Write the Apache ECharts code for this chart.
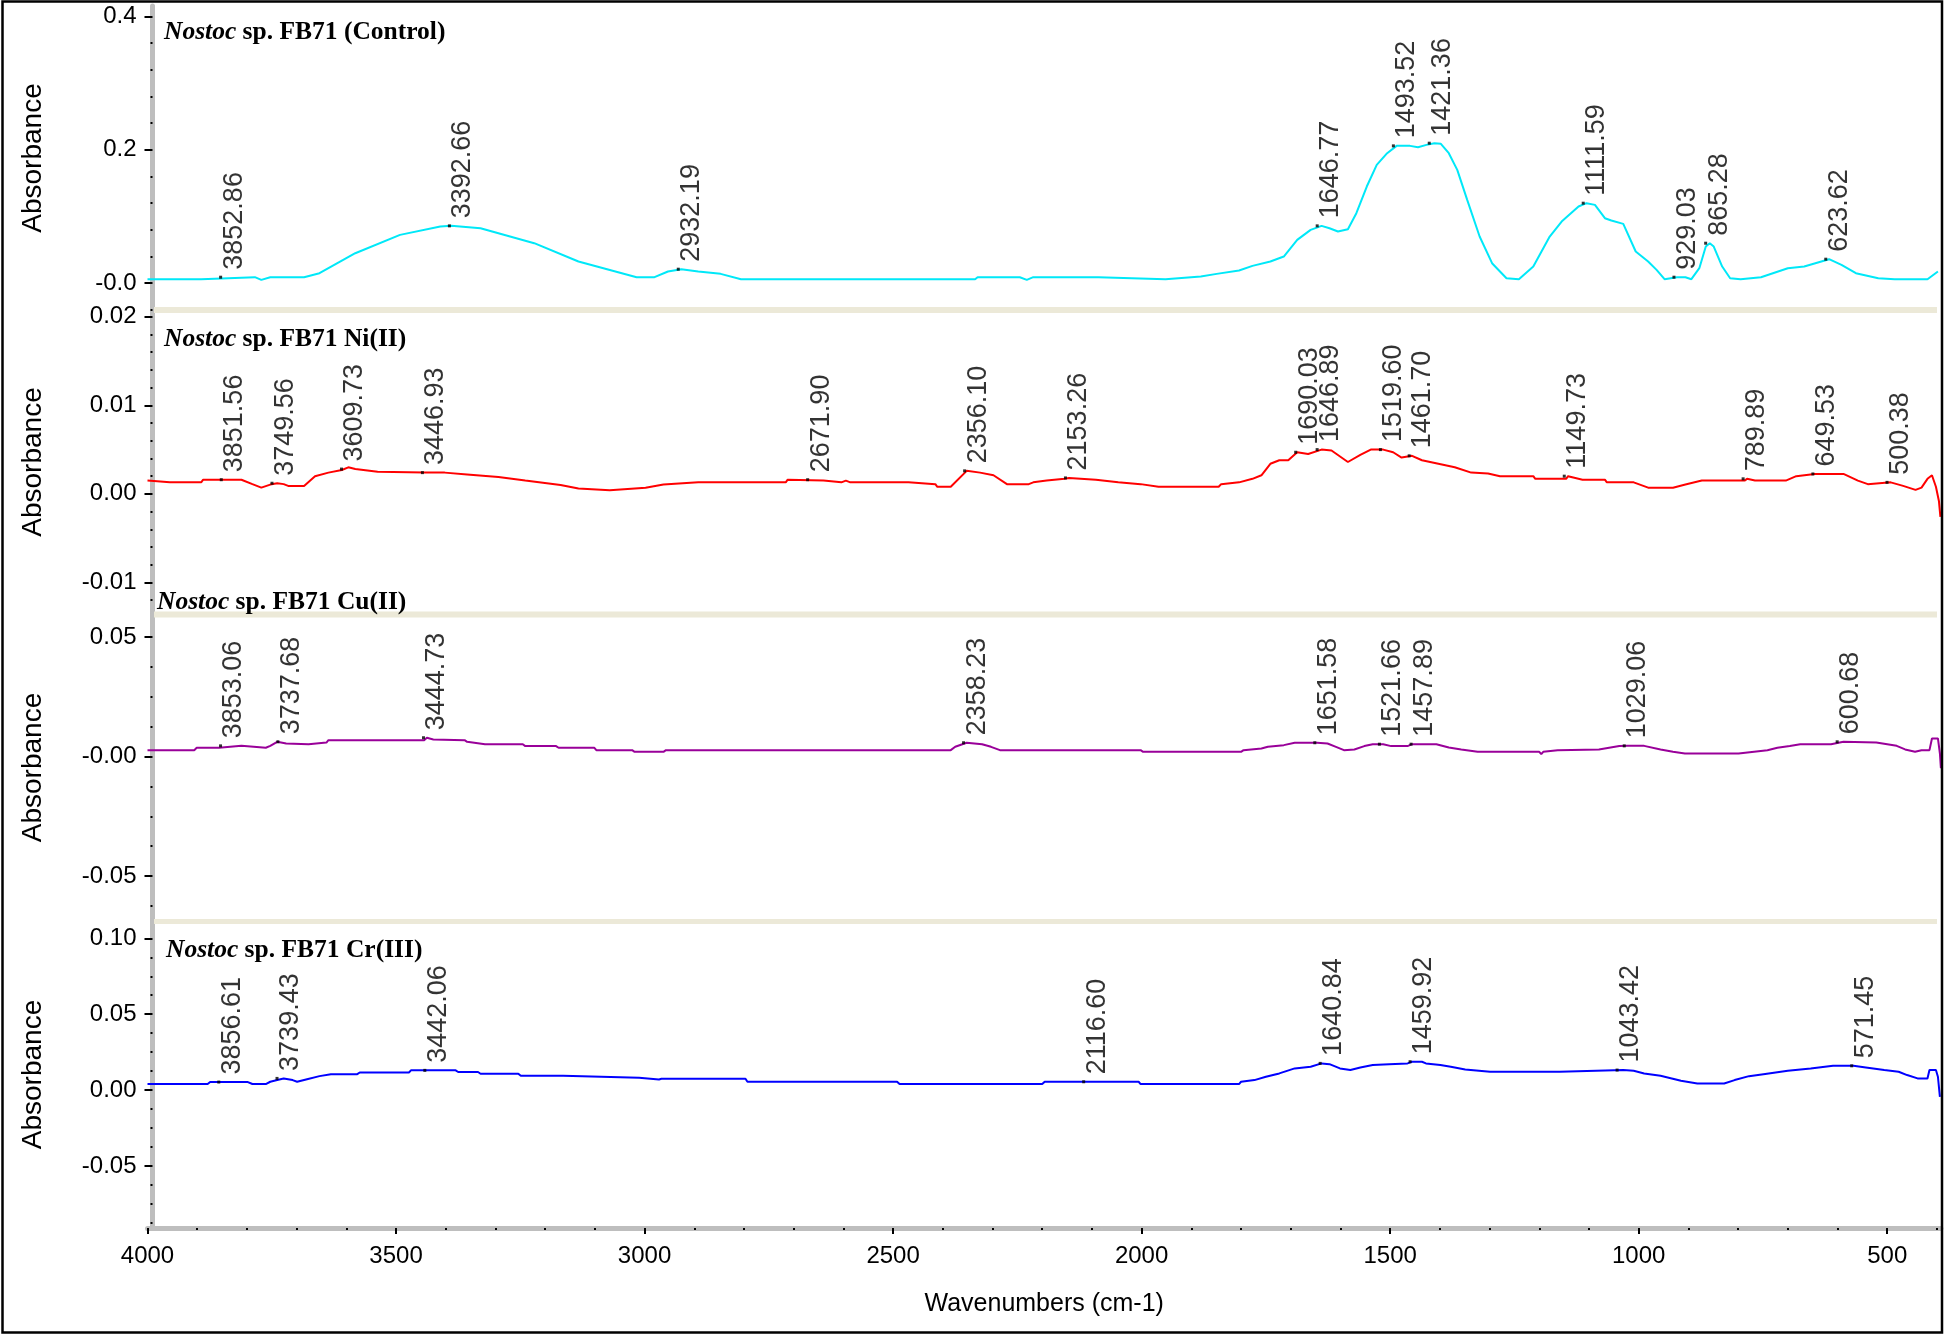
<!DOCTYPE html>
<html><head><meta charset="utf-8">
<script src="https://cdn.jsdelivr.net/npm/echarts@6.0.0/dist/echarts.min.js"></script>
<style>html,body{margin:0;padding:0;background:#fff}#c{width:1944px;height:1335px}</style>
</head><body><div id="c"></div><script>
// ---------- DATA ----------
const xTickLabels = ['4000','3500','3000','2500','2000','1500','1000','500'];
const panelNames = ['(Control)','Ni(II)','Cu(II)','Cr(III)'];
const yTickLabels = [
  ['0.4','0.2','-0.0'],
  ['0.02','0.01','0.00','-0.01'],
  ['0.05','-0.00','-0.05'],
  ['0.10','0.05','0.00','-0.05']
];

const controlWn = [4000,3892,3890,3784,3771,3753,3685,3654,3582,3492,3411,3389,3330,3222,3133,3016,2980,2953,2926,2892,2847,2806,2335,2330,2245,2231,2218,2087,2083,1952,1948,1881,1849,1804,1777,1741,1714,1687,1660,1638,1622,1605,1585,1568,1547,1527,1506,1487,1460,1444,1427,1411,1398,1382,1365,1345,1320,1295,1266,1241,1212,1179,1155,1121,1105,1088,1068,1055,1031,1006,981,964,948,923,906,894,878,865,857,849,832,816,795,754,700,667,617,592,563,518,485,419,398];
const controlAbs = [0.006,0.006,0.009,0.009,0.005,0.009,0.009,0.015,0.045,0.0725,0.085,0.086,0.0825,0.060,0.0325,0.009,0.009,0.0175,0.021,0.0175,0.014,0.006,0.006,0.009,0.009,0.005,0.009,0.009,0.006,0.006,0.009,0.010,0.014,0.019,0.026,0.0325,0.040,0.065,0.080,0.086,0.0825,0.0775,0.081,0.105,0.145,0.1775,0.195,0.206,0.206,0.204,0.2075,0.210,0.209,0.195,0.170,0.125,0.070,0.030,0.0075,0.006,0.025,0.070,0.0925,0.115,0.120,0.1175,0.0975,0.094,0.089,0.0475,0.0325,0.020,0.006,0.009,0.009,0.006,0.0225,0.055,0.060,0.055,0.025,0.0075,0.006,0.009,0.0225,0.025,0.036,0.0275,0.015,0.0075,0.006,0.006,0.0175];

const niWn = [4000,3955,3892,3888,3811,3789,3771,3753,3739,3726,3717,3685,3663,3636,3609,3596,3582,3537,3443,3402,3357,3294,3240,3169,3133,3070,2998,2962,2892,2716,2712,2640,2604,2595,2586,2469,2465,2415,2411,2384,2352,2325,2298,2271,2227,2218,2191,2155,2146,2092,2047,2002,1966,1845,1840,1804,1777,1759,1741,1723,1705,1687,1665,1638,1618,1585,1560,1539,1514,1494,1477,1456,1436,1403,1370,1337,1303,1279,1212,1208,1146,1142,1113,1068,1064,1010,981,931,906,873,787,782,766,704,683,646,588,559,539,493,468,443,431,419,410,402,396,393];
const niAbs = [0.0015,0.0013,0.0013,0.0016,0.0016,0.0011,0.0007,0.00105,0.0012,0.0011,0.0009,0.0009,0.0020,0.0024,0.0027,0.0030,0.0028,0.0025,0.0024,0.0024,0.0022,0.0019,0.0015,0.0010,0.0006,0.0004,0.0007,0.00105,0.0013,0.0013,0.0016,0.0015,0.0013,0.0015,0.0013,0.0013,0.0011,0.0011,0.0008,0.0008,0.0026,0.0024,0.0021,0.0011,0.0011,0.0013,0.0015,0.0017,0.0018,0.0016,0.0013,0.0011,0.0008,0.0008,0.0011,0.0013,0.0017,0.0021,0.0034,0.0038,0.0038,0.0047,0.0045,0.0050,0.0049,0.0036,0.0044,0.0050,0.0050,0.0047,0.0041,0.0043,0.0038,0.0034,0.0030,0.0024,0.0023,0.0020,0.0020,0.0017,0.0017,0.0020,0.0016,0.0016,0.0013,0.0013,0.0007,0.0007,0.00105,0.0015,0.0015,0.0017,0.0015,0.0015,0.0020,0.00225,0.00225,0.0015,0.0011,0.0013,0.0009,0.00045,0.0007,0.0017,0.0021,0.0008,-0.0008,-0.0026];

const cuWn = [4000,3906,3901,3856,3852,3811,3807,3762,3753,3739,3721,3717,3676,3672,3640,3636,3443,3438,3425,3362,3357,3321,3245,3240,3178,3173,3101,3097,3025,3020,2962,2957,2384,2375,2352,2321,2303,2285,2002,1997,1800,1795,1759,1746,1714,1692,1647,1626,1609,1593,1572,1552,1535,1514,1498,1465,1456,1407,1403,1382,1357,1324,1200,1196,1192,1163,1080,1076,1039,1022,989,985,956,931,907,799,795,741,721,696,675,613,609,588,522,518,481,464,444,431,415,410,398,394,392];
const cuAbs = [0.0027,0.0027,0.0037,0.0037,0.0045,0.0045,0.0037,0.0037,0.0045,0.0062,0.0055,0.0052,0.0052,0.0059,0.0059,0.0069,0.0069,0.0079,0.0072,0.0069,0.0062,0.0052,0.0052,0.0044,0.0044,0.0037,0.0037,0.0027,0.0027,0.0020,0.0020,0.0027,0.0027,0.0041,0.0058,0.0052,0.0041,0.0027,0.0027,0.0020,0.0020,0.0027,0.0034,0.0041,0.0048,0.0058,0.0058,0.0055,0.0041,0.0027,0.0030,0.0044,0.0052,0.0052,0.0044,0.0044,0.0052,0.0052,0.0044,0.0038,0.0030,0.0020,0.0020,0.0010,0.0020,0.0027,0.0030,0.0038,0.0044,0.0045,0.0045,0.0037,0.0030,0.0020,0.0013,0.0013,0.0020,0.0027,0.0037,0.0044,0.0052,0.0052,0.0059,0.0062,0.0059,0.0052,0.0045,0.0030,0.0020,0.0027,0.0027,0.0076,0.0076,0.0013,-0.0049];

const crWn = [4000,3879,3874,3798,3789,3762,3753,3739,3726,3708,3699,3681,3654,3631,3578,3573,3474,3470,3380,3375,3335,3330,3254,3249,3164,3160,3011,3007,2971,2966,2797,2793,2492,2487,2200,2195,2006,2002,1804,1800,1773,1750,1723,1692,1660,1638,1622,1601,1580,1560,1535,1502,1465,1456,1436,1428,1399,1378,1349,1299,1159,1155,1031,1010,989,956,915,882,828,807,778,749,700,654,609,568,543,506,477,460,439,419,415,402,398,394];
const crAbs = [0.0040,0.0040,0.0053,0.0053,0.0040,0.0040,0.0055,0.0066,0.0077,0.0066,0.0055,0.0070,0.0092,0.0105,0.0105,0.0116,0.0116,0.0130,0.0130,0.0119,0.0119,0.0108,0.0108,0.0094,0.0094,0.0081,0.0081,0.0070,0.0070,0.0075,0.0075,0.0055,0.0055,0.0040,0.0040,0.0055,0.0055,0.0040,0.0040,0.0055,0.0066,0.0088,0.0110,0.0143,0.0154,0.0176,0.0171,0.0143,0.0132,0.0149,0.0165,0.0171,0.0176,0.0187,0.0187,0.0176,0.0165,0.0154,0.0136,0.0121,0.0121,0.0132,0.0132,0.0127,0.0110,0.0094,0.0061,0.0044,0.0044,0.0066,0.0092,0.0105,0.0127,0.0143,0.0160,0.0160,0.0149,0.0132,0.0121,0.0099,0.0077,0.0077,0.0132,0.0132,0.0088,-0.0044];

const controlPeaks = ['3852.86','3392.66','2932.19','1646.77','1493.52','1421.36','1111.59','929.03','865.28','623.62'];
const controlPeakAbs = [0.009,0.086,0.021,0.086,0.206,0.210,0.120,0.009,0.060,0.036];
const niPeaks = ['3851.56','3749.56','3609.73','3446.93','2671.90','2356.10','2153.26','1690.03','1646.89','1519.60','1461.70','1149.73','789.89','649.53','500.38'];
const niPeakAbs = [0.0016,0.0012,0.0028,0.0024,0.0016,0.0026,0.0018,0.0047,0.0050,0.0050,0.0043,0.0020,0.0017,0.00225,0.0013];
const cuPeaks = ['3853.06','3737.68','3444.73','2358.23','1651.58','1521.66','1457.89','1029.06','600.68'];
const cuPeakAbs = [0.0045,0.0062,0.0079,0.0058,0.0058,0.0052,0.0052,0.0045,0.0062];
const crPeaks = ['3856.61','3739.43','3442.06','2116.60','1640.84','1459.92','1043.42','571.45'];
const crPeakAbs = [0.0053,0.0077,0.0130,0.0055,0.0176,0.0187,0.0132,0.0160];

// ---------- LAYOUT ----------
const seriesWn = [controlWn, niWn, cuWn, crWn];
const seriesAbs = [controlAbs, niAbs, cuAbs, crAbs];
const peakTexts = [controlPeaks, niPeaks, cuPeaks, crPeaks];
const peakAbs = [controlPeakAbs, niPeakAbs, cuPeakAbs, crPeakAbs];
const colors = ['#00E8F8','#FF0000','#990099','#0000FF'];
const panels = [
  {top:6,   height:304, min:-0.0402,  max:0.4158,  minor:0.04},
  {top:310, height:304, min:-0.01357, max:0.02077, minor:0.002},
  {top:614, height:307, min:-0.06887, max:0.05974, minor:0.0125},
  {top:921, height:307, min:-0.09084, max:0.11140, minor:0.0125}
];
const titlePos = [[159,14],[159,321],[152,584],[161,932]];
const GL = 147.5, XMIN = 392, XMAX = 4000, GW = 1793.4;
const FONT = 'Liberation Sans, Arial, sans-serif';
const SERIF = 'Liberation Serif, Times New Roman, serif';

const xMajorVals = xTickLabels.map(Number);
const xMinorVals = [];
for (let v = 400; v < 4000; v += 100) if (v % 500 !== 0) xMinorVals.push(v);

function minorTicks(p, majors) {
  const out = [];
  const k0 = Math.ceil(p.min / p.minor), k1 = Math.floor(p.max / p.minor);
  for (let k = k0; k <= k1; k++) {
    const v = Math.round(k * p.minor * 1e6) / 1e6;
    if (!majors.some(m => Math.abs(m - v) < 1e-9)) out.push(v);
  }
  return out;
}
function labelFor(vals, labels) {
  return v => { const i = vals.findIndex(t => Math.abs(t - v) < 1e-9); return i >= 0 ? labels[i] : ''; };
}

const grid = panels.map(p => ({left: GL, width: GW, top: p.top, height: p.height, containLabel: false}));
const xAxis = panels.map((p, i) => ({
  type: 'value', gridIndex: i, min: XMIN, max: XMAX, inverse: true,
  show: i === 3,
  axisLine: {show: true, onZero: false, lineStyle: {color: '#BEBEBE', width: 5}},
  axisTick: {show: true, customValues: xMajorVals, length: 6, lineStyle: {color: '#000', width: 2}},
  axisLabel: {show: true, customValues: xMajorVals, formatter: labelFor(xMajorVals, xTickLabels),
              fontSize: 24, color: '#000', fontFamily: FONT, margin: 16},
  splitLine: {show: false},
  name: i === 3 ? 'Wavenumbers (cm-1)' : '', nameLocation: 'middle', nameGap: 64,
  nameTextStyle: {fontSize: 25, color: '#000', fontFamily: FONT}
}));
xAxis.push({
  type: 'value', gridIndex: 3, min: XMIN, max: XMAX, inverse: true, position: 'bottom',
  axisLine: {show: false, onZero: false}, axisLabel: {show: false}, splitLine: {show: false},
  axisTick: {show: true, customValues: xMinorVals, length: 2, lineStyle: {color: '#000', width: 2}}
});

const yAxis = [];
panels.forEach((p, i) => {
  const vals = yTickLabels[i].map(Number);
  yAxis.push({
    type: 'value', gridIndex: i, min: p.min, max: p.max, position: 'left', offset: -5,
    axisLine: {show: true, onZero: false, lineStyle: {color: '#BEBEBE', width: 5}},
    axisTick: {show: true, customValues: vals, length: 8, lineStyle: {color: '#000', width: 2}},
    axisLabel: {show: true, customValues: vals, formatter: labelFor(vals, yTickLabels[i]),
                fontSize: 24, color: '#000', fontFamily: FONT, margin: 16},
    splitLine: {show: false},
    name: 'Absorbance', nameLocation: 'middle', nameGap: 105,
    nameTextStyle: {fontSize: 28, color: '#000', fontFamily: FONT}
  });
});
panels.forEach((p, i) => {
  const vals = yTickLabels[i].map(Number);
  yAxis.push({
    type: 'value', gridIndex: i, min: p.min, max: p.max, position: 'left', offset: -5,
    axisLine: {show: false, onZero: false}, axisLabel: {show: false}, splitLine: {show: false},
    axisTick: {show: true, customValues: minorTicks(p, vals), length: 2, lineStyle: {color: '#000', width: 2}}
  });
});

const series = [];
panels.forEach((p, i) => {
  series.push({
    type: 'line', xAxisIndex: i, yAxisIndex: i, showSymbol: false, silent: true,
    data: seriesWn[i].map((w, k) => [w, seriesAbs[i][k]]),
    lineStyle: {color: colors[i], width: 2}, itemStyle: {color: colors[i]}, z: 3
  });
  series.push({
    type: 'scatter', xAxisIndex: i, yAxisIndex: i, silent: true, symbol: 'rect', symbolSize: 3,
    itemStyle: {color: '#000'}, z: 4,
    data: peakTexts[i].map((s, k) => [parseFloat(s), peakAbs[i][k], s]),
    label: {show: true, formatter: q => q.data[2], position: 'top', distance: 2, rotate: 90,
            align: 'left', verticalAlign: 'top', offset: [4, 0],
            fontSize: 27, color: '#000', fontFamily: FONT}
  });
});

const title = panelNames.map((n, i) => ({
  left: titlePos[i][0], top: titlePos[i][1],
  text: '{i|Nostoc}{b| sp. FB71 ' + n + '}',
  textStyle: {rich: {
    i: {fontStyle: 'italic', fontWeight: 'bold', fontFamily: SERIF, fontSize: 25.5, color: '#000'},
    b: {fontWeight: 'bold', fontFamily: SERIF, fontSize: 25.5, color: '#000'}
  }}
}));

const graphic = [
  {type: 'rect', z: 1, shape: {x: 154, y: 307, width: 1783, height: 6}, style: {fill: '#ECE9D8'}},
  {type: 'rect', z: 1, shape: {x: 154, y: 611.5, width: 1783, height: 6}, style: {fill: '#ECE9D8'}},
  {type: 'rect', z: 1, shape: {x: 154, y: 919, width: 1783, height: 5}, style: {fill: '#ECE9D8'}},
  {type: 'rect', z: 100, silent: true, shape: {x: 2.5, y: 1.5, width: 1939.5, height: 1331},
   style: {fill: 'transparent', stroke: '#000', lineWidth: 2.5}}
];

const chart = echarts.init(document.getElementById('c'), null, {renderer: 'canvas'});
chart.setOption({
  backgroundColor: '#fff', animation: false,
  title, grid, xAxis, yAxis, series, graphic
});
</script></body></html>
